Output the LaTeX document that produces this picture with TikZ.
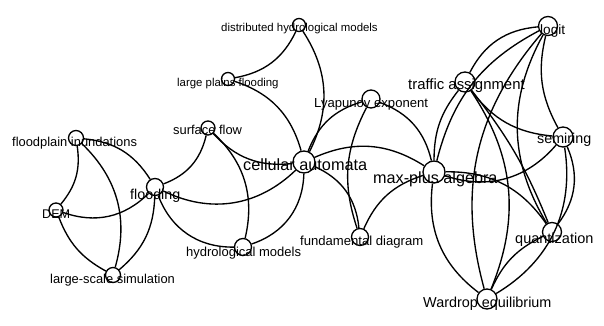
\documentclass[tikz,border=0pt]{standalone}
\usepackage{fontspec}
\setmainfont{Liberation Sans}
\begin{document}
\begin{tikzpicture}[x=1pt,y=1pt,
  hub/.style={circle,draw=black,line width=1.3pt,inner sep=0pt},
  kwlabel/.style={anchor=base west,inner sep=0pt,text=black},
  link/.style={draw=black,line width=1.35pt}]
\useasboundingbox (0,0) rectangle (604,-326);
% keyword: name, centre x, centre y, diameter, label x, label baseline, font size, text
\newcommand{\kwnode}[8]{%
  \node[hub,minimum size=#4pt] (#1) at (#2,-#3) {};
  \node[kwlabel,font=\fontsize{#7}{#7}\selectfont] (#1-t) at (#5,-#6) {#8};}
% hydrology cluster
\kwnode{fi}{76}{138}{15}{12}{146}{12.9}{floodplain inundations}
\kwnode{flood}{155}{187}{17}{130}{199}{14.3}{flooding}
\kwnode{dem}{56}{210}{14}{42}{218}{12.6}{DEM}
\kwnode{lss}{113}{275}{15}{50}{283}{12.9}{large-scale simulation}
\kwnode{surf}{208}{128}{14}{173}{134}{12.9}{surface flow}
\kwnode{dhm}{299}{25}{13}{221}{32}{11.4}{distributed hydrological models}
\kwnode{lpf}{228}{79}{13}{177}{87}{11.4}{large plains flooding}
\kwnode{hyd}{243}{247}{17}{186}{256}{13.0}{hydrological models}
% cellular automata / traffic cluster
\kwnode{ca}{304}{162}{22}{243}{170}{16.3}{cellular automata}
\kwnode{lyap}{371}{99}{18}{314}{107}{13.1}{Lyapunov exponent}
\kwnode{fd}{360}{237}{17}{300}{245}{13.1}{fundamental diagram}
\kwnode{mp}{434}{172}{22}{373}{183}{16.2}{max-plus algebra}
\kwnode{ta}{465}{82}{20}{408}{90}{14.9}{traffic assignment}
\kwnode{logit}{548}{26}{19}{540}{35}{13.6}{logit}
\kwnode{semi}{563}{137}{20}{537}{143}{14.3}{semiring}
\kwnode{quant}{552}{232}{19}{515}{243}{14.5}{quantization}
\kwnode{war}{487}{299}{20}{423}{307}{14.4}{Wardrop equilibrium}
% co-occurrence links
\begin{scope}[every path/.style={link}]
\draw (fi) to[bend left=24] (dem);
\draw (fi) to[bend left=26] (flood);
\draw (fi) to[bend left=31] (lss);
\draw (dem) to[bend right=32] (flood);
\draw (dem) to[bend right=20] (lss);
\draw (flood) to[bend left=24] (lss);
\draw (flood) to[bend right=28] (surf);
\draw (flood) to[bend right=35] (ca);
\draw (flood) to[bend right=35] (hyd);
\draw (surf) to[bend right=27] (ca);
\draw (surf) to[bend left=30] (hyd);
\draw (lpf) to[bend right=27] (dhm);
\draw (lpf) to[bend left=28] (ca);
\draw (dhm) to[bend left=30] (ca);
\draw (ca) to[bend left=26] (lyap);
\draw (ca) to[bend left=28] (mp);
\draw (ca) to[bend left=35] (hyd);
\draw (ca) to[bend left=30] (fd);
\draw (lyap) to[bend right=23] (fd);
\draw (lyap) to[bend left=28] (mp);
\draw (fd) to[bend left=24] (mp);
\draw (logit) to[bend right=29] (ta);
\draw (logit) to[bend right=24] (mp);
\draw (logit) to[bend right=28] (war);
\draw (logit) to[bend right=30] (quant);
\draw (logit) to[bend right=21] (semi);
\draw (ta) to[bend left=28] (war);
\draw (ta) to[bend right=24] (semi);
\draw (ta) to[bend left=8] (quant);
\draw (mp) to[bend left=19] (ta);
\draw (mp) to[bend right=34] (semi);
\draw (mp) to[bend left=28] (quant);
\draw (mp) to[bend right=30] (war);
\draw (semi) to[bend left=30] (quant);
\draw (semi) to[bend left=34] (war);
\draw (quant) to[bend right=20] (war);
\end{scope}
\end{tikzpicture}
\end{document}
